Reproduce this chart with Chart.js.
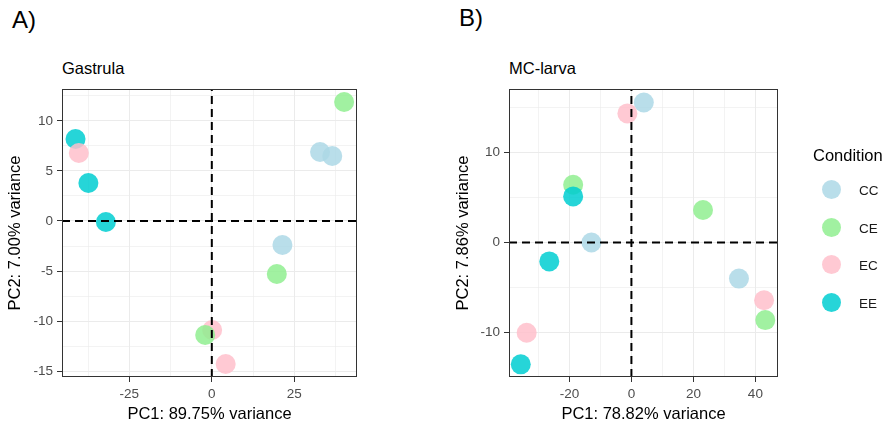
<!DOCTYPE html>
<html lang="en">
    <head>
        <meta charset="UTF-8" />
        <title>PCA - Gastrula / MC-larva</title>
        <style>
            body {
                margin: 0;
                background: #ffffff;
                font-family: "Liberation Sans", Arial, sans-serif;
            }
            .page {
                position: relative;
                width: 886px;
                height: 430px;
                overflow: hidden;
            }
            .page canvas {
                position: absolute;
                top: 0;
            }
            .lbl {
                position: absolute;
                white-space: nowrap;
                color: #000;
                line-height: 1;
            }
            .panel { font-size: 24px; }
            .sub { font-size: 16.5px; }
            .legend {
                position: absolute;
                left: 813px;
                top: 146px;
            }
            .legend .ttl { font-size: 16.5px; color: #000; margin-bottom: 15px; }
            .legend .row {
                position: relative;
                height: 37.5px;
            }
            .legend .dot {
                position: absolute;
                left: 9px;
                top: 0;
                width: 19px;
                height: 19px;
                border-radius: 50%;
            }
            .legend .txt {
                position: absolute;
                left: 46px;
                top: 3px;
                font-size: 13.5px;
                color: #1a1a1a;
            }
        </style>
    </head>
    <body>
        <div class="page">
            <div class="lbl panel" style="left: 12px; top: 8px">A)</div>
            <div class="lbl panel" style="left: 459px; top: 6px">B)</div>
            <div class="lbl sub" style="left: 62px; top: 60px">Gastrula</div>
            <div class="lbl sub" style="left: 509px; top: 60px">MC-larva</div>

            <canvas id="gastrula" width="440" height="430" style="left: 0px"></canvas>
            <canvas id="larva" width="438" height="430" style="left: 448px"></canvas>

            <div class="legend" id="legend"></div>
        </div>

        <script src="https://cdn.jsdelivr.net/npm/chart.js"></script>

        <script>
            // conditions + colours (ggplot named colours, alpha 0.85)
            const conditions = ["CC", "CE", "EC", "EE"];
            const colors = [
                "rgba(173, 216, 230, 0.85)",
                "rgba(144, 238, 144, 0.85)",
                "rgba(255, 192, 203, 0.85)",
                "rgba(0, 206, 209, 0.85)",
            ];

            // Gastrula PCA, [PC1, PC2]
            const gastrulaCC = [[32.8, 6.9], [36.5, 6.5], [21.4, -2.4]];
            const gastrulaCE = [[40.1, 11.9], [19.7, -5.3], [-2.0, -11.4]];
            const gastrulaEC = [[-40.3, 6.8], [0.1, -10.9], [4.2, -14.3]];
            const gastrulaEE = [[-41.3, 8.2], [-37.4, 3.8], [-32.1, -0.1]];

            // MC-larva PCA, [PC1, PC2]
            const larvaCC = [[4.0, 15.5], [-12.9, 0.0], [34.7, -4.0]];
            const larvaCE = [[-18.8, 6.4], [23.1, 3.6], [43.2, -8.6]];
            const larvaEC = [[-1.3, 14.3], [-33.8, -10.0], [42.8, -6.4]];
            const larvaEE = [[-18.8, 5.1], [-26.5, -2.1], [-35.7, -13.5]];

            // axis ranges + tick steps
            const gastrulaX = [-45.4, 44.0];
            const gastrulaY = [-15.6, 13.2];
            const larvaX = [-39.5, 47.3];
            const larvaY = [-14.9, 17.0];

            const tickGrey = "#4d4d4d";
            const FONT = "'Liberation Sans', Arial, sans-serif";

            // legend (html)
            let lg = '<div class="ttl">Condition</div>';
            conditions.forEach(function (c, i) {
                lg += '<div class="row"><span class="dot" style="background:' + colors[i] +
                    '"></span><span class="txt">' + c + "</span></div>";
            });
            document.getElementById("legend").innerHTML = lg;

            // box round the panel like theme_bw
            const panelBorder = {
                id: "panelBorder",
                afterDatasetsDraw(chart) {
                    const a = chart.chartArea;
                    const ctx = chart.ctx;
                    ctx.save();
                    ctx.strokeStyle = "#333333";
                    ctx.lineWidth = 1;
                    ctx.strokeRect(a.left + 0.5, a.top + 0.5, a.right - a.left - 1, a.bottom - a.top - 1);
                    ctx.restore();
                },
            };

            function isMajor(v, step) {
                const r = Math.abs(v % step);
                return r < 1e-6 || Math.abs(r - step) < 1e-6;
            }

            function makeScale(range, step, labelStep, title, isY, fitSize) {
                return {
                    type: "linear",
                    min: range[0],
                    max: range[1],
                    title: {
                        display: true,
                        text: title,
                        color: "#000",
                        font: { family: FONT, size: 16.5 },
                        padding: isY ? { top: 6, bottom: 0 } : { top: 0, bottom: 6 },
                    },
                    ticks: {
                        stepSize: step,
                        includeBounds: false,
                        autoSkip: false,
                        maxRotation: 0,
                        padding: 4,
                        color: tickGrey,
                        font: { family: FONT, size: 13.5 },
                        callback: function (v) {
                            return isMajor(v, labelStep) ? String(v) : "";
                        },
                    },
                    grid: {
                        color: "#ebebeb",
                        lineWidth: function (c) {
                            return c.tick && isMajor(c.tick.value, labelStep) ? 1 : 0.6;
                        },
                        tickLength: 5,
                        tickWidth: 1,
                        tickColor: function (c) {
                            return c.tick && isMajor(c.tick.value, labelStep) ? "#333333" : "rgba(0,0,0,0)";
                        },
                    },
                    border: { display: false },
                    afterFit: function (scale) {
                        if (isY) scale.width = fitSize;
                        else scale.height = fitSize;
                    },
                };
            }

            function pts(list) {
                return list.map(function (p) {
                    return { x: p[0], y: p[1] };
                });
            }

            function makeChart(id, groups, orders, xr, yr, xStep, xLab, yStep, yLab, xTitle, yTitle, yWidth, padRight) {
                const datasets = groups.map(function (g, i) {
                    return {
                        label: conditions[i],
                        data: pts(g),
                        backgroundColor: colors[i],
                        borderWidth: 0,
                        pointRadius: 10,
                        pointHoverRadius: 10,
                        order: orders[i],
                    };
                });
                // dashed reference lines at 0
                datasets.push({
                    label: "h0",
                    data: [{ x: xr[0], y: 0 }, { x: xr[1], y: 0 }],
                    showLine: true,
                    borderColor: "#000",
                    borderWidth: 2,
                    borderDash: [8, 5],
                    pointRadius: 0,
                    order: -1,
                });
                datasets.push({
                    label: "v0",
                    data: [{ x: 0, y: yr[0] }, { x: 0, y: yr[1] }],
                    showLine: true,
                    borderColor: "#000",
                    borderWidth: 2,
                    borderDash: [8, 5],
                    pointRadius: 0,
                    order: -1,
                });

                return new Chart(document.getElementById(id), {
                    type: "scatter",
                    data: { datasets: datasets },
                    options: {
                        responsive: false,
                        animation: false,
                        devicePixelRatio: 1,
                        layout: { padding: { top: 89, right: padRight, bottom: 0, left: 0 } },
                        plugins: {
                            legend: { display: false },
                            tooltip: { enabled: false },
                        },
                        scales: {
                            x: makeScale(xr, xStep, xLab, xTitle, false, 53),
                            y: makeScale(yr, yStep, yLab, yTitle, true, yWidth),
                        },
                    },
                    plugins: [panelBorder],
                });
            }

            const gastrulaChart = makeChart(
                "gastrula",
                [gastrulaCC, gastrulaCE, gastrulaEC, gastrulaEE],
                [0, 1, 2, 3],
                gastrulaX, gastrulaY,
                12.5, 25, 2.5, 5,
                "PC1: 89.75% variance", "PC2: 7.00% variance",
                62, 83
            );

            const larvaChart = makeChart(
                "larva",
                [larvaCC, larvaCE, larvaEC, larvaEE],
                [0, 2, 3, 1],
                larvaX, larvaY,
                10, 20, 5, 10,
                "PC1: 78.82% variance", "PC2: 7.86% variance",
                61, 108
            );
        </script>
    </body>
</html>
